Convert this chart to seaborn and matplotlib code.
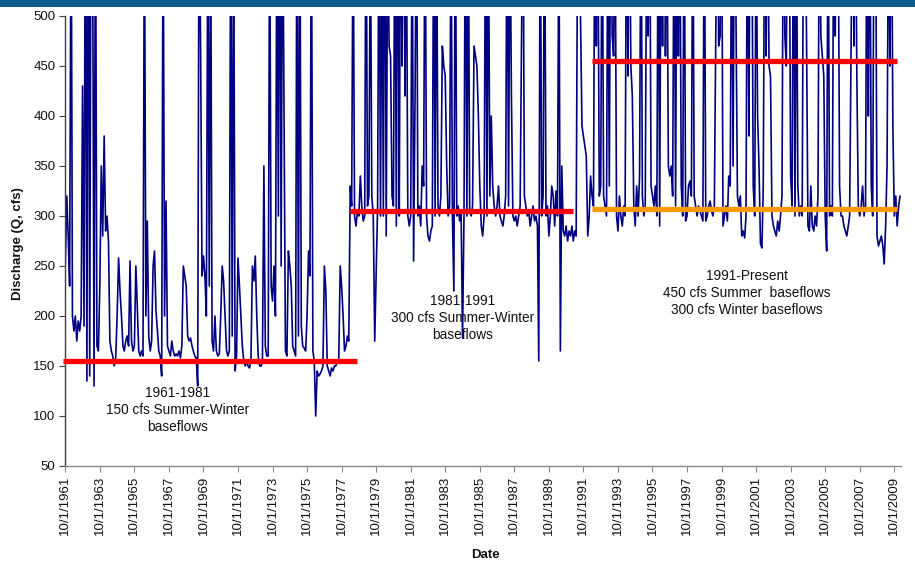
import numpy as np
import pandas as pd
import matplotlib
matplotlib.use("Agg")
import matplotlib.pyplot as plt
import matplotlib.dates as mdates
from matplotlib.patches import Rectangle
import seaborn as sns

# Monthly discharge (cfs), one row per water year (Oct .. Sep)
flows_wy1962_1978 = [
    [250, 320, 280, 230, 650, 200, 185, 200, 175, 195, 185, 200],
    [430, 190, 700, 135, 800, 140, 700, 600, 130, 650, 170, 165],
    [230, 350, 280, 380, 285, 300, 275, 175, 165, 160, 150, 158],
    [200, 258, 225, 200, 170, 165, 175, 180, 170, 255, 175, 165],
    [170, 250, 210, 165, 160, 165, 160, 620, 200, 295, 180, 165],
    [175, 250, 265, 205, 185, 165, 160, 140, 620, 200, 315, 170],
    [165, 160, 175, 165, 160, 162, 160, 165, 158, 170, 250, 240],
    [230, 180, 175, 178, 170, 165, 160, 158, 130, 640, 470, 240],
    [260, 240, 200, 600, 230, 620, 175, 165, 200, 165, 160, 162],
    [200, 250, 235, 200, 165, 160, 165, 640, 180, 620, 145, 160],
    [258, 230, 200, 170, 155, 150, 155, 150, 148, 155, 250, 235],
    [260, 200, 160, 150, 150, 155, 350, 170, 160, 160, 620, 230],
    [215, 250, 200, 620, 300, 700, 250, 650, 400, 165, 160, 265],
    [250, 230, 170, 165, 160, 650, 180, 640, 190, 170, 168, 165],
    [200, 265, 240, 620, 165, 155, 100, 145, 140, 142, 145, 150],
    [250, 225, 150, 145, 140, 148, 145, 150, 150, 155, 155, 250],
    [230, 200, 165, 170, 180, 175, 330, 310, 620, 300, 290, 305],
]
flows_wy1979_1992 = [
    [300, 340, 310, 295, 300, 650, 310, 320, 600, 320, 300, 175],
    [240, 310, 650, 300, 620, 300, 700, 280, 600, 470, 460, 320],
    [310, 650, 290, 700, 300, 650, 450, 700, 420, 600, 300, 290],
    [300, 620, 255, 420, 650, 300, 310, 290, 350, 330, 650, 300],
    [280, 275, 285, 290, 650, 300, 620, 310, 300, 320, 470, 450],
    [440, 350, 300, 310, 620, 300, 225, 650, 300, 310, 295, 305],
    [178, 300, 650, 300, 620, 305, 300, 310, 470, 460, 450, 400],
    [330, 290, 280, 300, 650, 300, 620, 320, 400, 330, 310, 300],
    [310, 330, 300, 295, 290, 300, 320, 650, 310, 620, 420, 300],
    [295, 300, 290, 300, 310, 470, 650, 320, 310, 300, 305, 290],
    [300, 310, 295, 300, 290, 155, 650, 300, 320, 650, 300, 310],
    [280, 300, 330, 320, 290, 325, 300, 620, 165, 350, 285, 280],
    [290, 275, 285, 280, 290, 275, 285, 280, 600, 560, 500, 390],
    [380, 370, 360, 280, 300, 340, 320, 310, 650, 470, 620, 320],
]
flows_wy1993_2010 = [
    [330, 650, 320, 310, 300, 620, 330, 650, 480, 460, 620, 300],
    [285, 320, 300, 290, 310, 300, 650, 440, 650, 450, 420, 310],
    [290, 330, 300, 340, 650, 320, 300, 310, 620, 480, 650, 330],
    [320, 310, 330, 300, 650, 290, 650, 470, 700, 460, 620, 350],
    [340, 350, 320, 650, 310, 650, 460, 620, 330, 300, 650, 295],
    [300, 330, 335, 320, 650, 320, 310, 300, 310, 305, 300, 295],
    [650, 295, 300, 310, 315, 305, 300, 310, 480, 650, 470, 480],
    [650, 290, 300, 310, 295, 340, 330, 620, 350, 650, 500, 320],
    [310, 320, 280, 285, 278, 300, 650, 380, 650, 620, 330, 300],
    [620, 400, 350, 272, 268, 330, 650, 460, 650, 450, 440, 300],
    [290, 285, 280, 295, 285, 300, 320, 650, 480, 450, 650, 620],
    [340, 310, 650, 300, 620, 330, 300, 310, 300, 650, 620, 480],
    [290, 285, 330, 290, 285, 300, 290, 320, 650, 480, 460, 440],
    [300, 265, 650, 300, 310, 300, 650, 480, 650, 620, 330, 300],
    [300, 290, 285, 280, 290, 300, 460, 650, 470, 650, 440, 310],
    [300, 310, 330, 300, 310, 650, 400, 650, 330, 300, 650, 620],
    [280, 270, 275, 280, 270, 252, 290, 350, 620, 450, 650, 390],
    [300, 320, 290, 310, 320],
]
record_start = "1961-10-01"

# Operating-regime baseflow levels
regime_levels = [155, 305, 455, 307]
regime_starts = ["1961-08-15", "1978-03-25", "1992-04-05", "1992-04-05"]
regime_ends = ["1978-08-20", "1991-02-25", "2009-12-01", "2009-12-01"]
regime_colors = ["#ff0000", "#ff0000", "#ff0000", "#ff9900"]

regime_notes = [
    "1961-1981\n150 cfs Summer-Winter\nbaseflows",
    "1981-1991\n300 cfs Summer-Winter\nbaseflows",
    "1991-Present\n450 cfs Summer  baseflows\n300 cfs Winter baseflows",
]
note_dates = ["1968-04-08", "1984-10-12", "2001-03-20"]
note_levels = [106, 198, 223]

tick_years = list(range(1961, 2010, 2))
y_ticks = list(range(50, 501, 50))

# ---------------------------------------------------------------
sns.set_theme(style="white")
plt.rcParams["font.family"] = ["Liberation Sans", "DejaVu Sans"]

q = []
for rows in (flows_wy1962_1978, flows_wy1979_1992, flows_wy1993_2010):
    for r in rows:
        q.extend(r)
dates = pd.date_range(record_start, periods=len(q), freq="MS")
df = pd.DataFrame({"Date": dates, "Discharge": q})

W, H = 915, 564
fig = plt.figure(figsize=(W / 100, H / 100), dpi=100)
fig.patch.set_facecolor("white")
ax = fig.add_axes([65.3 / W, 1 - 466 / H, (901 - 65.3) / W, 450 / H])

sns.lineplot(data=df, x="Date", y="Discharge", ax=ax, color="#000080",
             linewidth=1.2, estimator=None, zorder=2)

for s, e, lvl, c in zip(regime_starts, regime_ends, regime_levels, regime_colors):
    ax.plot([pd.Timestamp(s), pd.Timestamp(e)], [lvl, lvl], color=c, lw=3.8,
            solid_capstyle="butt", zorder=3, clip_on=False)

for txt, d, lvl in zip(regime_notes, note_dates, note_levels):
    ax.text(mdates.date2num(pd.Timestamp(d)), lvl, txt, ha="center", va="center",
            fontsize=9.8, color="#111111", linespacing=1.3, zorder=4)

ax.set_xlim(pd.Timestamp("1961-10-01"), pd.Timestamp("2010-02-20"))
ax.set_ylim(50, 500)
ax.set_xticks([pd.Timestamp(f"{y}-10-01") for y in tick_years])
ax.set_xticklabels([f"10/1/{y}" for y in tick_years], rotation=90)
ax.set_yticks(y_ticks)
ax.set_yticklabels([str(v) for v in y_ticks])
ax.set_xlabel("")
ax.set_ylabel("")

for side in ("top", "right"):
    ax.spines[side].set_visible(False)
ax.spines["left"].set_color("#404040")
ax.spines["bottom"].set_color("#8a8a8a")
for side in ("left", "bottom"):
    ax.spines[side].set_linewidth(1.0)
ax.tick_params(axis="both", which="major", direction="out", length=4, width=0.8,
               labelsize=9.5, labelcolor="#111111", pad=3)
ax.tick_params(axis="x", bottom=True, colors="#8a8a8a", labelcolor="#111111")
ax.tick_params(axis="y", left=True, colors="#404040", labelcolor="#111111")
ax.grid(False)

fig.text(18 / W, 1 - 244 / H, "Discharge (Q, cfs)", rotation=90, ha="center",
         va="center", fontsize=9.5, fontweight="bold", color="#111111")
fig.text(485 / W, 1 - 555 / H, "Date", ha="center", va="center",
         fontsize=9.5, fontweight="bold", color="#111111")

# title band across the top edge
fig.add_artist(Rectangle((0, 1 - 7 / H), 1, 7 / H, transform=fig.transFigure,
                         facecolor="#0b5e8a", edgecolor="none"))

fig.savefig("out.png", dpi=100)
